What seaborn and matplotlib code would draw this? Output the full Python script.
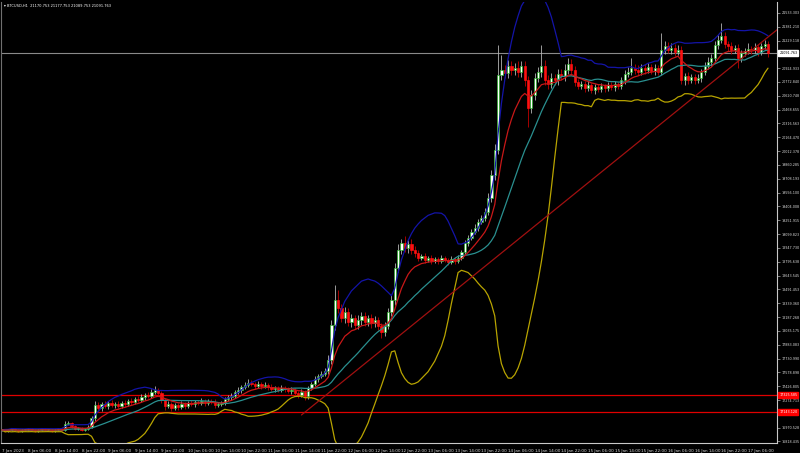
import numpy as np
import pandas as pd
import seaborn as sns
import matplotlib.pyplot as plt
import matplotlib.transforms as mtransforms

# === BTCUSD H1 closes, 7 Jan 22:00 -> 17 Jan 12:00 ===
closes = [
    16945, 16934, 16945, 16956, 16945, 16934, 16945, 16945, 16956, 16945,
    16934, 16945, 16956, 16945, 16945, 16934, 16945, 16956, 16945,
    17011, 17022, 16989,
    16956, 16967, 16945, 16956, 16978,
    17077,
    17220, 17187, 17231, 17209, 17242, 17220, 17231, 17209, 17242, 17231, 17264, 17253, 17286, 17275,
    17308, 17330, 17319, 17363, 17385, 17352,
    17275, 17209, 17231, 17187, 17220, 17198, 17231, 17209, 17242, 17231, 17253, 17242, 17264, 17242,
    17264, 17253, 17220, 17231, 17242,
    17286, 17308, 17319, 17363, 17385, 17418, 17440, 17462,
    17451, 17429, 17451, 17429, 17440, 17418, 17396, 17407, 17385, 17407, 17396, 17374, 17385, 17352,
    17330, 17363, 17319,
    17407, 17451, 17506, 17539, 17561, 17594, 17715,
    18100, 18375, 18287, 18177, 18243, 18133, 18177, 18100, 18155, 18199, 18133, 18177, 18122, 18155,
    18089, 18023, 18089,
    18243, 18375, 18727, 18925, 19002, 18947, 18991, 18925, 18892,
    18837, 18859, 18815, 18837, 18804, 18826, 18804, 18837, 18815, 18793, 18826, 18804, 18837,
    18903, 19002, 19057, 19123, 19167, 19233, 19277, 19343, 19497, 19750, 20025,
    20850, 20905, 20872, 20949, 20905, 20927, 20883, 20949, 20795, 20487,
    20630, 20817, 20883, 20949, 20795, 20751, 20817, 20795, 20861, 20839, 20905, 20971, 20905,
    20773, 20729, 20751, 20707, 20740, 20685, 20718, 20696, 20729, 20707, 20740, 20718, 20751, 20729,
    20795, 20861, 20883, 20927, 20905, 20883, 20927, 20905, 20938, 20894, 20927, 20883,
    21125, 21169, 21125, 21147, 21103, 21125,
    20795, 20839, 20795, 20828, 20795, 20817, 20883, 20949, 20993, 21037,
    21180, 21235, 21279, 21191, 21169, 21125, 21147, 21037, 21092, 21114, 21136, 21125, 21158, 21103,
    21169, 21191, 21091.763,
]
first_open = 16945

# wick lengths above / below the body, in $
upper_wick = [
    10, 8, 12, 10, 8, 10, 12, 8, 10, 10, 12, 8, 10, 10, 8, 12, 10, 8, 10,
    30, 25, 15,
    12, 10, 15, 10, 20,
    20,
    40, 30, 25, 30, 20, 30, 25, 35, 20, 30, 25, 30, 25, 30,
    30, 20, 35, 30, 45, 20,
    20, 25, 30, 20, 25, 20, 30, 25, 20, 30, 25, 20, 30, 25, 20, 25, 30, 20, 25,
    20, 25, 30, 20, 30, 25, 35, 40,
    30, 25, 30, 20, 35, 25, 30, 20, 25, 30, 20, 25, 30, 20, 25, 30, 25,
    20, 25, 30, 25, 30, 35, 60,
    60, 165, 110, 40, 50, 40, 45, 30, 50, 40, 45, 35, 40, 45, 30, 30, 40,
    40, 50, 60, 70, 40, 77, 40, 50, 40,
    30, 25, 30, 25, 35, 20, 25, 30, 25, 20, 30, 25, 30,
    25, 30, 35, 30, 40, 35, 30, 45, 50, 60, 70,
    330, 165, 60, 70, 50, 60, 80, 50, 60, 40,
    50, 60, 50, 231, 70, 50, 60, 40, 50, 60, 70, 66, 50,
    40, 30, 35, 30, 40, 25, 30, 35, 30, 25, 30, 35, 30, 25,
    30, 40, 50, 110, 40, 50, 40, 45, 40, 35, 40, 30,
    187, 50, 40, 60, 40, 50,
    40, 30, 40, 35, 30, 40, 30, 40, 50, 40,
    40, 50, 143, 45, 30, 40, 35, 40, 35, 30, 66, 30, 40, 30, 35, 40, 30,
]
lower_wick = [
    10, 12, 8, 10, 12, 10, 8, 10, 12, 10, 8, 10, 12, 10, 10, 8, 12, 10, 10,
    10, 15, 20,
    10, 12, 10, 15, 10,
    15,
    30, 25, 30, 20, 30, 25, 30, 20, 25, 30, 20, 30, 25, 20,
    25, 30, 20, 25, 20, 30,
    30, 40, 25, 30, 20, 30, 25, 30, 20, 25, 30, 20, 25, 30, 25, 20, 35, 25, 20,
    25, 20, 30, 25, 20, 30, 25, 20,
    25, 30, 20, 35, 25, 30, 20, 30, 25, 20, 30, 25, 30, 35, 30, 25, 45,
    30, 25, 20, 30, 25, 20, 30,
    40, 50, 60, 45, 50, 40, 50, 45, 40, 50, 45, 40, 50, 45, 40, 66, 40,
    30, 40, 50, 40, 45, 40, 50, 45, 40,
    30, 25, 30, 25, 30, 25, 30, 20, 25, 30, 25, 30, 25,
    20, 25, 30, 25, 20, 30, 25, 30, 35, 40, 50,
    40, 50, 60, 50, 55, 60, 50, 60, 70, 209,
    60, 50, 40, 50, 60, 50, 40, 50, 60, 40, 50, 40, 60,
    40, 35, 30, 40, 35, 30, 40, 35, 30, 40, 35, 30, 40, 35,
    30, 40, 35, 30, 40, 35, 30, 40, 35, 30, 40, 35,
    30, 40, 35, 45, 40, 30,
    40, 55, 40, 35, 40, 30, 40, 35, 30, 40,
    30, 40, 35, 40, 50, 40, 35, 110, 40, 35, 30, 40, 35, 40, 30, 35, 40,
]

support_levels = [17325.585, 17143.120]
support_labels = ["17325.585", "17143.120"]
trend_bars = [90, 233]
trend_prices = [17110, 21356]

header = "\u25BE BTCUSD,H1  21170.753 21177.753 21089.753 21091.763"
bid_label = "21091.763"

price_ticks = [16818.435, 16970.528, 17122.620, 17274.713, 17426.805, 17578.898, 17730.990,
               17883.083, 18035.175, 18187.268, 18339.360, 18491.453, 18643.545, 18795.638,
               18947.730, 19099.823, 19251.915, 19404.008, 19556.100, 19708.193, 19860.285,
               20012.378, 20164.470, 20316.563, 20468.655, 20620.748, 20772.840, 20924.933,
               21077.025, 21229.118, 21381.210, 21533.303]

time_labels = ["7 Jan 2023", "8 Jan 06:00", "8 Jan 14:00", "8 Jan 22:00", "9 Jan 06:00",
               "9 Jan 14:00", "9 Jan 22:00", "10 Jan 06:00", "10 Jan 14:00", "10 Jan 22:00",
               "11 Jan 06:00", "11 Jan 14:00", "11 Jan 22:00", "12 Jan 06:00", "12 Jan 14:00",
               "12 Jan 22:00", "13 Jan 06:00", "13 Jan 14:00", "13 Jan 22:00", "14 Jan 06:00",
               "14 Jan 14:00", "14 Jan 22:00", "15 Jan 06:00", "15 Jan 14:00", "15 Jan 22:00",
               "16 Jan 06:00", "16 Jan 14:00", "16 Jan 22:00", "17 Jan 06:00"]

# === build frame + indicators ===
n = len(closes)
df = pd.DataFrame({"bar": np.arange(n), "close": closes})
df["open"] = [first_open] + closes[:-1]
df["high"] = df[["open", "close"]].max(axis=1) + np.array(upper_wick)
df["low"] = df[["open", "close"]].min(axis=1) - np.array(lower_wick)

roll = df["close"].rolling(20, min_periods=1)
df["mid"] = roll.mean()
sd = roll.std(ddof=0).fillna(0)
df["upper"] = df["mid"] + 2 * sd      # blue band
df["lower"] = df["mid"] - 2.6 * sd    # yellow band
df["ema"] = df["close"].ewm(span=10, adjust=False).mean()

# === figure ===
sns.set_style("dark", {"axes.facecolor": "black", "figure.facecolor": "black"})
plt.rcParams["font.family"] = ["DejaVu Sans"]

fig = plt.figure(figsize=(8, 4.53), dpi=100, facecolor="black")
ax = fig.add_axes([0.0015, 10 / 453, 777 / 800 - 0.0015, 441 / 453])
ax.set_facecolor("black")

up = df["close"] >= df["open"]
body_h = (df["close"] - df["open"]).abs().clip(lower=9)
body_b = df[["open", "close"]].min(axis=1)

ax.vlines(df.loc[up, "bar"], df.loc[up, "low"], df.loc[up, "high"], color="#b4b4b4", lw=0.6, zorder=2)
ax.vlines(df.loc[~up, "bar"], df.loc[~up, "low"], df.loc[~up, "high"], color="#c00000", lw=0.6, zorder=2)
ax.bar(df.loc[up, "bar"], body_h[up], bottom=body_b[up], width=0.66,
       color="white", edgecolor="#22b422", linewidth=0.45, zorder=3)
ax.bar(df.loc[~up, "bar"], body_h[~up], bottom=body_b[~up], width=0.66,
       color="#ff1010", edgecolor="#ff1010", linewidth=0.45, zorder=3)

sns.lineplot(data=df, x="bar", y="upper", color="#1414a8", lw=0.9, ax=ax, zorder=4)
sns.lineplot(data=df, x="bar", y="lower", color="#b8a400", lw=0.9, ax=ax, zorder=4)
sns.lineplot(data=df, x="bar", y="mid", color="#2a9090", lw=0.9, ax=ax, zorder=4)
sns.lineplot(data=df, x="bar", y="ema", color="#c81818", lw=0.9, ax=ax, zorder=4)
ax.plot(trend_bars, trend_prices, color="#a01010", lw=0.9, zorder=4)

ax.axhline(closes[-1], color="#8a8a8a", lw=0.8, zorder=1)
for lvl in support_levels:
    ax.axhline(lvl, color="#e00000", lw=0.9, zorder=1)

ax.set_xlim(-0.1, 232.7)
ax.set_ylim(16801.76, 21652.76)

# right price scale (the label under the bid box is hidden, as in the terminal)
ax.yaxis.tick_right()
ax.set_yticks(price_ticks)
ax.set_yticklabels(["" if abs(t - closes[-1]) < 60 else f"{t:.3f}" for t in price_ticks])
ax.tick_params(axis="y", colors="#b0b0b0", labelcolor="#d8d8d8", labelsize=2.4,
               length=2, width=0.5, pad=1.2, direction="out")
ax.set_xticks(np.arange(0, 8 * len(time_labels), 8))
ax.set_xticklabels(time_labels, ha="left")
ax.tick_params(axis="x", colors="#b0b0b0", labelcolor="#d8d8d8", labelsize=3.0,
               length=3, width=0.5, pad=1, direction="out")
ax.set_xlabel("")
ax.set_ylabel("")
ax.grid(False)
for s in ["right", "bottom", "left"]:
    ax.spines[s].set_visible(True)
    ax.spines[s].set_color("#c8c8c8")
    ax.spines[s].set_linewidth(0.8)
ax.spines["top"].set_visible(False)
ax.spines["left"].set_color("#707070")

trans = mtransforms.blended_transform_factory(ax.transAxes, ax.transData)
ax.text(1.003, closes[-1], bid_label, transform=trans, fontsize=2.4, color="black",
        va="center", ha="left", clip_on=False, zorder=10,
        bbox=dict(boxstyle="square,pad=0.3", fc="white", ec="white"))
for lvl, lab in zip(support_levels, support_labels):
    ax.text(1.003, lvl, lab, transform=trans, fontsize=2.4, color="white",
            va="center", ha="left", clip_on=False, zorder=10,
            bbox=dict(boxstyle="square,pad=0.3", fc="#ff0000", ec="#ff0000"))

fig.text(4 / 800, 1 - 6 / 453, header, fontsize=2.6, color="white", va="center", ha="left")

fig.savefig("out.png", dpi=100, facecolor="black")
